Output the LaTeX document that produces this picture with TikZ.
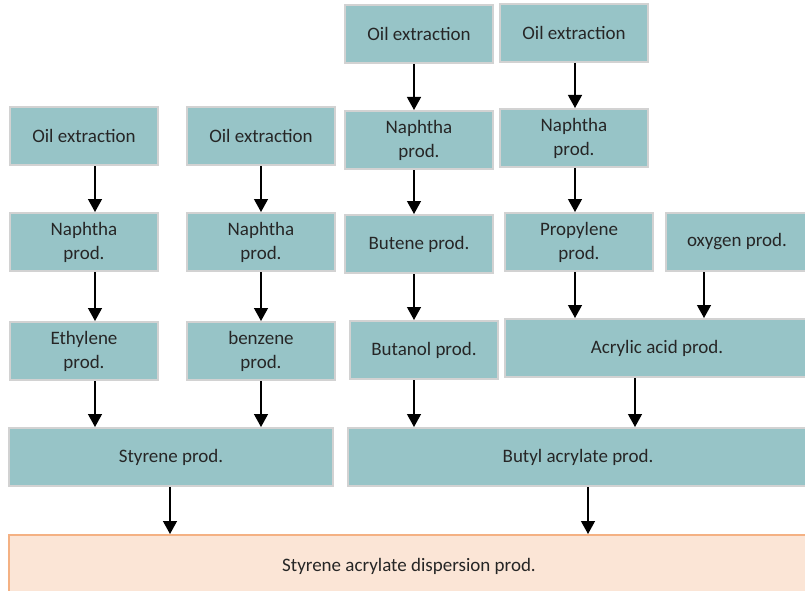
\documentclass[tikz,border=0pt]{standalone}
\usepackage{fontspec}
\setmainfont{Carlito}
\usetikzlibrary{arrows.meta}

\definecolor{boxfill}{HTML}{97C4C7}
\definecolor{boxline}{HTML}{D2D2D2}
\definecolor{endfill}{HTML}{FBE5D6}
\definecolor{endline}{HTML}{F4B183}
\definecolor{txt}{HTML}{262626}

\tikzset{
  box/.style={draw=boxline, fill=boxfill, line width=2pt, minimum width=148pt,
    minimum height=58pt, inner sep=0pt, align=center, text=txt,
    font=\fontsize{19}{24}\selectfont},
  endbox/.style={box, draw=endline, fill=endfill},
  arr/.style={line width=1.3pt, -{Triangle[width=14pt,length=13pt]}}
}

\begin{document}
\begin{tikzpicture}[x=1pt, y=-1pt]
\clip (0,0) rectangle (805,591);
\useasboundingbox (0,0) rectangle (805,591);
\fill[white] (0,0) rectangle (805,591);
% Styrene branch
\node[box] (oil1) at (84,136) {Oil extraction};
\node[box] (naph1) at (84,242) {Naphtha\\prod.};
\node[box] (eth) at (84,351) {Ethylene\\prod.};
\node[box] (oil2) at (261,136) {Oil extraction};
\node[box] (naph2) at (261,242) {Naphtha\\prod.};
\node[box] (benz) at (261,351) {benzene\\prod.};
\node[box, minimum width=324pt] (styr) at (171,457) {Styrene prod.};
% Butyl acrylate branch
\node[box] (oil3) at (419,34) {Oil extraction};
\node[box] (naph3) at (419,140) {Naphtha\\prod.};
\node[box] (butene) at (419,244) {Butene prod.};
\node[box] (butanol) at (424,350) {Butanol prod.};
\node[box] (oil4) at (574,33) {Oil extraction};
\node[box] (naph4) at (574,138) {Naphtha\\prod.};
\node[box] (propyl) at (579,242) {Propylene\\prod.};
\node[box, minimum width=142pt] (oxy) at (737,242) {oxygen prod.};
\node[box, minimum width=304pt] (acryl) at (657,348) {Acrylic acid prod.};
\node[box, minimum width=460pt] (butyl) at (578,457) {Butyl acrylate prod.};
% End product
\node[endbox, minimum width=800pt, minimum height=62pt] (disp) at (409,566) {Styrene acrylate dispersion prod.};
% arrows
\draw[arr] ([xshift=11pt]oil1.south) -- ([xshift=11pt]naph1.north);
\draw[arr] ([xshift=11pt]naph1.south) -- ([xshift=11pt]eth.north);
\draw[arr] ([xshift=11pt]eth.south) -- (styr.north -| 95,0);
\draw[arr] (oil2) -- (naph2);
\draw[arr] (naph2) -- (benz);
\draw[arr] (benz.south) -- (styr.north -| benz.south);
\draw[arr] ([xshift=-5pt]oil3.south) -- ([xshift=-5pt]naph3.north);
\draw[arr] ([xshift=-5pt]naph3.south) -- ([xshift=-5pt]butene.north);
\draw[arr] ([xshift=-5pt]butene.south) -- ([xshift=-10pt]butanol.north);
\draw[arr] ([xshift=-10pt]butanol.south) -- (butyl.north -| 414,0);
\draw[arr] ([xshift=1pt]oil4.south) -- ([xshift=1pt]naph4.north);
\draw[arr] ([xshift=1pt]naph4.south) -- ([xshift=-4pt]propyl.north);
\draw[arr] ([xshift=-4pt]propyl.south) -- (acryl.north -| 575,0);
\draw[arr] ([xshift=-33pt]oxy.south) -- (acryl.north -| 704,0);
\draw[arr] ([xshift=-22pt]acryl.south) -- (butyl.north -| 635,0);
\draw[arr] ([xshift=-1pt]styr.south) -- (disp.north -| 170,0);
\draw[arr] ([xshift=10pt]butyl.south) -- (disp.north -| 588,0);
\end{tikzpicture}
\end{document}
